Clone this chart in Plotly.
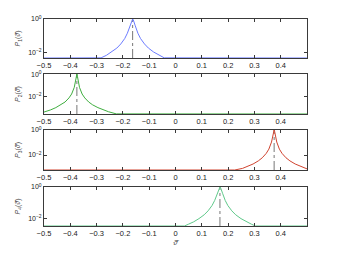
import numpy as np
import plotly.graph_objects as go

# ---- data ----
peaks = [-0.163, -0.375, 0.375, 0.169]
colors = ["#6c7cff", "#3fae3f", "#d0432f", "#5fc98a"]
ylabels = ["<i>P</i><sub>1</sub>(<i>ϑ̄</i>)", "<i>P</i><sub>2</sub>(<i>ϑ̄</i>)",
           "<i>P</i><sub>3</sub>(<i>ϑ̄</i>)", "<i>P</i><sub>4</sub>(<i>ϑ̄</i>)"]

x1 = [-0.5, -0.283, -0.263, -0.243, -0.223, -0.208, -0.193, -0.183, -0.173, -0.168, -0.165, -0.163,
      -0.161, -0.158, -0.153, -0.143, -0.133, -0.118, -0.103, -0.083, -0.063, -0.043, 0.5]
y1 = [0.00437, 0.00447, 0.0063, 0.0100, 0.0174, 0.031, 0.066, 0.138, 0.389, 0.724, 0.933, 1.0,
      0.933, 0.724, 0.389, 0.138, 0.066, 0.031, 0.0174, 0.0100, 0.0063, 0.00447, 0.00437]

x2 = [-0.5, -0.495, -0.475, -0.455, -0.435, -0.420, -0.405, -0.395, -0.385, -0.380, -0.377, -0.375,
      -0.373, -0.370, -0.365, -0.355, -0.345, -0.330, -0.315, -0.295, -0.275, -0.255, -0.225, 0.5]
y2 = [0.000468, 0.000501, 0.000724, 0.00115, 0.0020, 0.00355, 0.00813, 0.0178, 0.0676, 0.224, 0.646, 1.0,
      0.646, 0.224, 0.0676, 0.0178, 0.00813, 0.00355, 0.0020, 0.00115, 0.000724, 0.000501, 0.000324, 0.000316]

x3 = [-0.5, 0.225, 0.255, 0.275, 0.295, 0.315, 0.330, 0.345, 0.355, 0.365, 0.370, 0.373, 0.375,
      0.377, 0.380, 0.385, 0.395, 0.405, 0.420, 0.435, 0.455, 0.475, 0.495, 0.5]
y3 = [0.000631, 0.000631, 0.000851, 0.00123, 0.00191, 0.00339, 0.00603, 0.0135, 0.0295, 0.109, 0.329, 0.753, 1.0,
      0.753, 0.329, 0.109, 0.0295, 0.0135, 0.00603, 0.00339, 0.00191, 0.00123, 0.000851, 0.000776]

x4 = [-0.5, 0.034, 0.049, 0.069, 0.089, 0.109, 0.124, 0.139, 0.149, 0.159, 0.164, 0.167, 0.169,
      0.171, 0.174, 0.179, 0.189, 0.199, 0.214, 0.229, 0.249, 0.269, 0.289, 0.304, 0.5]
y4 = [0.00363, 0.00363, 0.00468, 0.0066, 0.0105, 0.0182, 0.0324, 0.0695, 0.144, 0.402, 0.730, 0.944, 1.0,
      0.944, 0.730, 0.402, 0.144, 0.0695, 0.0324, 0.0182, 0.0105, 0.0066, 0.00468, 0.00363, 0.00363]

xs = [x1, x2, x3, x4]
ys = [y1, y2, y3, y4]
xtickvals = [-0.5, -0.4, -0.3, -0.2, -0.1, 0, 0.1, 0.2, 0.3, 0.4]
xticktext = ["−0.5", "−0.4", "−0.3", "−0.2", "−0.1", "0", "0.1", "0.2", "0.3", "0.4"]
ytickvals = [1, 0.01]
yticktext = ["10<sup>0</sup>", "10<sup>−2</sup>"]

# ---- layout ----
domains = [[0.8116, 1.0], [0.541, 0.734], [0.2705, 0.4638], [0.0, 0.1884]]
axcol = "#3a3a3a"
fig = go.Figure()
layout = dict(width=331, height=247, margin=dict(l=36, r=32, t=11, b=29, autoexpand=False),
              paper_bgcolor="white", plot_bgcolor="white", showlegend=False,
              font=dict(family="Liberation Sans, Arial, sans-serif", size=7, color="#333"))
for i in range(4):
    n = "" if i == 0 else str(i + 1)
    ymin = min(ys[i])
    fig.add_trace(go.Scatter(x=[peaks[i], peaks[i]], y=[ymin, 1.0], mode="lines",
                             line=dict(color="#777", width=1, dash="dashdot"),
                             xaxis="x" + n, yaxis="y" + n, hoverinfo="skip"))
    fig.add_trace(go.Scatter(x=xs[i], y=ys[i], mode="lines",
                             line=dict(color=colors[i], width=1),
                             xaxis="x" + n, yaxis="y" + n))
    layout["xaxis" + n] = dict(domain=[0, 1], anchor="y" + n, range=[-0.5, 0.5],
                               tickvals=xtickvals, ticktext=xticktext, automargin=False,
                               ticks="inside", ticklen=3, tickcolor=axcol,
                               showline=True, linecolor=axcol, linewidth=1, mirror="ticks",
                               showgrid=False, zeroline=False,
                               tickfont=dict(size=7.5, color="#222"))
    layout["yaxis" + n] = dict(domain=domains[i], anchor="x" + n, type="log",
                               range=[float(np.log10(ymin)), 0], automargin=False,
                               tickvals=ytickvals, ticktext=yticktext,
                               ticks="inside", ticklen=3, tickcolor=axcol,
                               showline=True, linecolor=axcol, linewidth=1, mirror="ticks",
                               showgrid=False, zeroline=False,
                               tickfont=dict(size=7, color="#222"),
                               title=dict(text=ylabels[i], font=dict(size=7, color="#444"), standoff=6))
layout["xaxis4"]["title"] = dict(text="<i>ϑ̄</i>", font=dict(size=8, color="#444"), standoff=2)
fig.update_layout(**layout)
fig.write_html("out.html")
